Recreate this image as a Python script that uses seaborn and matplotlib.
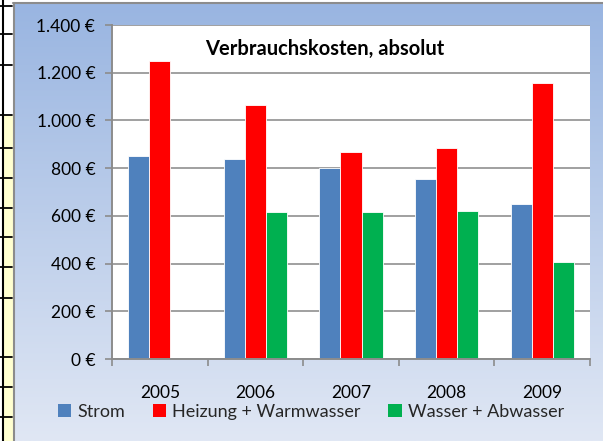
import numpy as np
import pandas as pd
import matplotlib
matplotlib.use("Agg")
import matplotlib.pyplot as plt
from matplotlib.patches import Patch, Rectangle
from matplotlib.lines import Line2D
from matplotlib.ticker import FuncFormatter
import seaborn as sns

years = ["2005", "2006", "2007", "2008", "2009"]
strom = [851, 837, 800, 755, 649]
heizung = [1251, 1065, 869, 885, 1158]
wasser = [np.nan, 616, 616, 622, 407]
series_names = ["Strom", "Heizung + Warmwasser", "Wasser + Abwasser"]
colors = ["#4f81bd", "#ff0000", "#00b050"]
yticks = [0, 200, 400, 600, 800, 1000, 1200, 1400]
title = "Verbrauchskosten, absolut"

df = pd.DataFrame({
    "Jahr": years * 3,
    "Serie": [series_names[0]] * 5 + [series_names[1]] * 5 + [series_names[2]] * 5,
    "Wert": strom + heizung + wasser,
})

sns.set_theme(style="white")
plt.rcParams['font.family'] = ['Lato', 'DejaVu Sans']

W, H = 603, 441
fig = plt.figure(figsize=(W / 100, H / 100), dpi=100)
fig.patch.set_facecolor("white")

# gradient background for the chart area
bg = fig.add_axes([13 / W, 0, 1 - 13 / W, 1 - 3 / H], zorder=-10)
grad = np.linspace(0, 1, 256).reshape(-1, 1)
top = np.array(matplotlib.colors.to_rgb("#99b5e1"))
bot = np.array(matplotlib.colors.to_rgb("#e0e7f4"))
img = top[None, None, :] * (1 - grad[:, :, None]) + bot[None, None, :] * grad[:, :, None]
bg.imshow(img, aspect="auto", extent=[0, 1, 0, 1], origin="upper")
bg.set_xlim(0, 1)
bg.set_ylim(0, 1)
bg.axis("off")

# chart border (grey) left and top
fig.add_artist(Line2D([13.5 / W, 13.5 / W], [0, 1 - 3 / H], transform=fig.transFigure, color="#8c8c8c", lw=1.5))
fig.add_artist(Line2D([13 / W, 1], [1 - 2.5 / H, 1 - 2.5 / H], transform=fig.transFigure, color="#8c8c8c", lw=1.5))

# spreadsheet strip on the left
fig.add_artist(Rectangle((3.5 / W, 0), 9 / W, 1 - 115 / H, transform=fig.transFigure,
                         facecolor="#ffffd0", edgecolor="none", zorder=-5))
fig.add_artist(Line2D([3.5 / W, 3.5 / W], [0, 1], transform=fig.transFigure, color="black", lw=1.5))
for yy in [6, 34, 65, 115, 148, 178, 208, 237, 267, 298, 357, 387, 417]:
    fig.add_artist(Line2D([0, 12 / W], [1 - yy / H, 1 - yy / H], transform=fig.transFigure, color="black", lw=1.3))

ax = fig.add_axes([112 / W, 1 - 359 / H, (590 - 112) / W, (359 - 25) / H])
ax.set_facecolor("white")
sns.barplot(data=df, x="Jahr", y="Wert", hue="Serie", palette=colors, width=0.66,
            gap=0, ax=ax, legend=False, edgecolor="white", linewidth=0.6, saturation=1)

ax.set_ylim(0, 1400)
ax.set_xlim(-0.5, 4.5)
ax.set_yticks(yticks)
ax.yaxis.set_major_formatter(FuncFormatter(lambda v, p: f"{int(v):,} €".replace(",", ".")))
ax.grid(axis="y", color="#a0a0a0", lw=1.4)
ax.set_axisbelow(True)
ax.set_xlabel("")
ax.set_ylabel("")
for s in ["top", "right"]:
    ax.spines[s].set_visible(False)
for s in ["left", "bottom"]:
    ax.spines[s].set_color("#8c8c8c")
    ax.spines[s].set_linewidth(1.4)
ax.tick_params(axis="y", direction="out", length=5, width=1.2, color="#8c8c8c",
               labelsize=12.5, pad=7, left=True, labelcolor="black")
ax.set_xticks(range(5))
ax.set_xticklabels(years)
ax.set_xticks([i - 0.5 for i in range(6)], minor=True)
ax.tick_params(axis="x", which="major", length=0, labelsize=12.5, pad=19, labelcolor="black")
ax.tick_params(axis="x", which="minor", direction="out", length=5, width=1.2, color="#8c8c8c", bottom=True)

ax.text(325 / W * W, 0, "", transform=ax.transAxes)
fig.text(325 / W, 1 - 49 / H, title, ha="center", va="center",
         fontsize=14.5, fontweight="bold", color="black")

handles = [Patch(facecolor=c, edgecolor="none") for c in colors]
fig.legend(handles, series_names, loc="center", bbox_to_anchor=(311 / W, 1 - 412 / H),
           ncol=3, frameon=False, fontsize=13, handlelength=0.75, handleheight=0.75,
           handletextpad=0.35, columnspacing=1.5, borderaxespad=0)

fig.savefig("out.png", dpi=100)
